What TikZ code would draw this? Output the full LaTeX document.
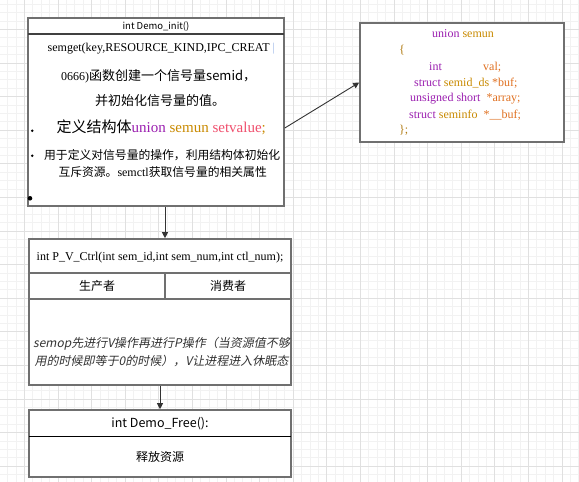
\documentclass[tikz,border=0pt]{standalone}
\usepackage{fontspec}
\setmainfont{Liberation Serif}
\newfontfamily\cjk{Noto Sans CJK SC}
\newfontfamily\cjkit{Noto Sans CJK SC}[FakeSlant=0.2]
\usetikzlibrary{arrows.meta}
\definecolor{gpurple}{HTML}{9B1FB0}
\definecolor{ggold}{HTML}{C98A00}
\definecolor{gred}{HTML}{F0506E}
\definecolor{gorange}{HTML}{E07020}
\definecolor{gbrown}{HTML}{B07A10}
\definecolor{bordergray}{HTML}{707070}
\definecolor{gridminor}{HTML}{F2F2F2}
\definecolor{gridmajor}{HTML}{E0E0E0}
\definecolor{barblue}{HTML}{9DB8E8}
\begin{document}
\begin{tikzpicture}[x=1pt,y=-1pt,
  box/.style={draw=bordergray, line width=1.6pt, fill=white, inner sep=0pt},
  sepdark/.style={draw=black!75, line width=1.3pt},
  sepgray/.style={draw=bordergray, line width=1.6pt},
  sepblack/.style={draw=black, line width=1pt},
  arr/.style={draw=black!80, line width=0.9pt, -{Triangle[width=6pt,length=6pt]}},
  txt/.style={inner sep=0pt, anchor=west},
  ctxt/.style={inner sep=0pt},
  serif12/.style={font=\fontsize{12}{14}\selectfont},
  cjk12/.style={font=\cjk\fontsize{12}{14}\selectfont}]
\useasboundingbox (0,0) rectangle (579,482);
\fill[white] (0,0) rectangle (579,482);
% grid
\foreach \k in {0,...,69} \draw[gridminor, line width=0.8pt] ({-0.9+8.4*\k},0) -- ({-0.9+8.4*\k},482);
\foreach \k in {0,...,58} \draw[gridminor, line width=0.8pt] (0,{-4.3+8.4*\k}) -- (579,{-4.3+8.4*\k});
\foreach \k in {0,...,16} \draw[gridmajor, line width=0.8pt] ({24.3+33.6*\k},0) -- ({24.3+33.6*\k},482);
\foreach \k in {0,...,13} \draw[gridmajor, line width=0.8pt] (0,{29.3+33.6*\k}) -- (579,{29.3+33.6*\k});

% boxes
\node[box, minimum width=256pt, minimum height=188pt] (b1) at (156,112) {};
\node[box, minimum width=204pt, minimum height=119pt] (b2) at (462,82.5) {};
\node[box, minimum width=262pt, minimum height=146pt] (b3) at (160,312) {};
\node[box, minimum width=262pt, minimum height=67pt] (b4) at (160,443.5) {};

% separators
\draw[sepdark] (28,34) -- (284,34);
\draw[sepgray] (29,273) -- (291,273);
\draw[sepgray] (29,299) -- (291,299);
\draw[sepgray] (165,273) -- (165,299);
\draw[sepblack] (29,436) -- (291,436);

% box 1 text
\node[ctxt, font=\cjk\fontsize{9.5}{11}\selectfont] (t1) at (156,27) {int Demo\_init()};
\node[txt, serif12] (l1) at (47.5,49) {semget(key,RESOURCE\_KIND,IPC\_CREAT {\color{barblue}|}};
\node[txt] (l2) at (61,76) {{\fontsize{12}{14}\selectfont 0666)}{\cjk\fontsize{13}{15}\selectfont 函数创建一个信号量semid，}};
\node[txt, font=\cjk\fontsize{13}{15}\selectfont] (l3) at (95,101) {并初始化信号量的值。};
\node[txt] (l4) at (56.5,127.5) {{\cjk\fontsize{15}{17}\selectfont 定义结构体}{\fontsize{15}{17}\selectfont\color{gpurple}union \color{ggold}semun \color{gred}setvalue\color{ggold};}};
\node[txt, font=\cjk\fontsize{11.8}{14}\selectfont] (l5) at (44,155) {用于定义对信号量的操作，利用结构体初始化};
\node[txt, font=\cjk\fontsize{11.8}{14}\selectfont] (l6) at (58.3,171.7) {互斥资源。{\rmfamily\fontsize{12}{14}\selectfont semctl}获取信号量的相关属性};
\fill (32.3,130.7) circle (1.4);
\fill (32.3,155.7) circle (1.4);
\fill (30,198.3) circle (2.3);

% box 2 text
\node[txt, serif12] (u1) at (432,34) {\color{gpurple}union \color{ggold}semun};
\node[txt, serif12, text=gbrown] (u2) at (399,50) {\{};
\node[txt, serif12, text=gpurple] (u3a) at (429,67) {int};
\node[txt, serif12, text=gorange] (u3b) at (483,67) {val;};
\node[txt, serif12] (u4) at (414,83) {\color{gpurple}struct \color{ggold}semid\_ds \color{gorange}*buf;};
\node[txt, serif12] (u5) at (410,98.5) {\color{gpurple}unsigned short\ \ \color{gorange}*array;};
\node[txt, serif12] (u6) at (409,115) {\color{gpurple}struct \color{ggold}seminfo\ \ \color{gorange}*\_\_buf;};
\node[txt, serif12, text=gbrown] (u7) at (399,130.7) {\};};

% box 3 text
\node[ctxt, serif12] (p1) at (160,257.5) {int P\_V\_Ctrl(int sem\_id,int sem\_num,int ctl\_num);};
\node[ctxt, cjk12] (p2) at (97,285.7) {生产者};
\node[ctxt, cjk12] (p3) at (228,285.7) {消费者};
\node[ctxt, font=\cjkit\fontsize{12}{14}\selectfont, text=black!80] (p4) at (161.5,344) {semop先进行V操作再进行P操作（当资源值不够};
\node[ctxt, font=\cjkit\fontsize{12}{14}\selectfont, text=black!80] (p5) at (161.5,361) {用的时候即等于0的时候），V让进程进入休眠态};

% box 4 text
\node[ctxt, font=\cjk\fontsize{12.5}{14}\selectfont] (f1) at (160,423.3) {int Demo\_Free():};
\node[ctxt, cjk12] (f2) at (160,457.3) {释放资源};

% arrows
\draw[arr] ([yshift=-16pt]b1.east) -- (b2.west);
\draw[arr] ([xshift=9pt]b1.south) -- ([xshift=9pt]b1.south |- b3.north);
\draw[arr] (b3.south) -- (b4.north);
\end{tikzpicture}
\end{document}
